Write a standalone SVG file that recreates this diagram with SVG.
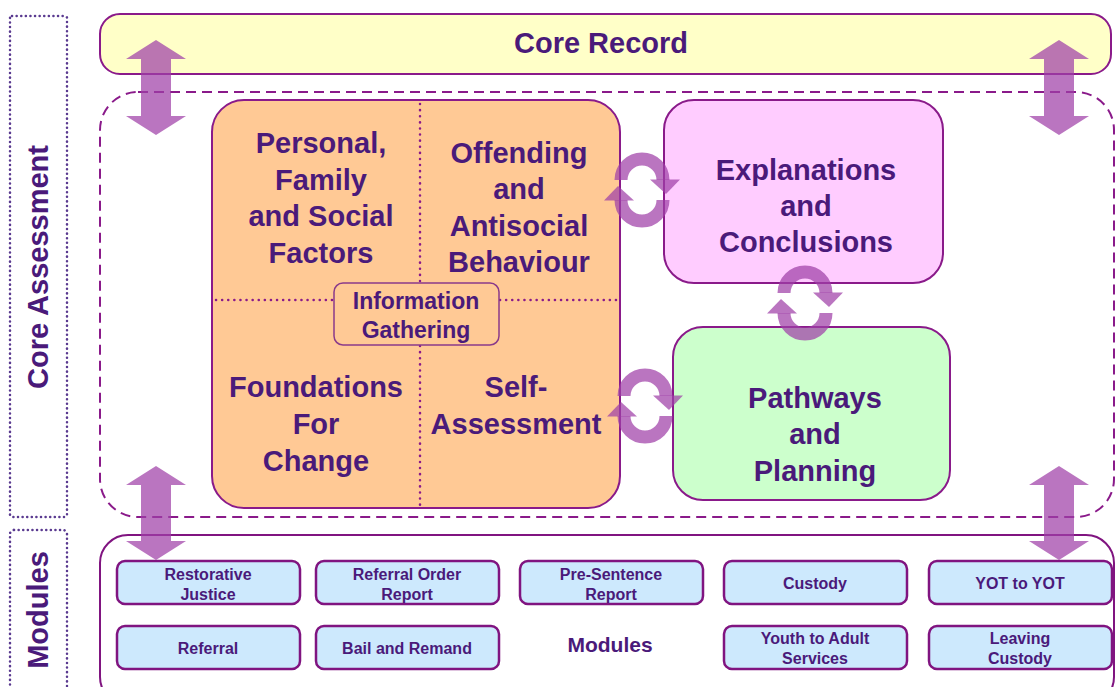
<svg xmlns="http://www.w3.org/2000/svg" xmlns:xlink="http://www.w3.org/1999/xlink" width="1116" height="687" viewBox="0 0 1116 687">
<style>
.t{font-family:"Liberation Sans",Arial,sans-serif;font-weight:bold;fill:#4a1a7a;text-anchor:middle}
.big{font-size:29px}
.sm{font-size:16px}
.box{stroke:#8a1a8a;stroke-width:2}
.mod{fill:#cde9fd;stroke:#801480;stroke-width:2.5}
.dot{fill:none;stroke:#5a3a90;stroke-width:2.5;stroke-dasharray:0.1 4.5;stroke-linecap:round}
.idot{fill:none;stroke:#8a1a8a;stroke-width:2.5;stroke-dasharray:0.1 6;stroke-linecap:round}
.arr{fill:#a040a8;fill-opacity:0.72}
.cyc{fill:none;stroke:#a040a8;stroke-opacity:0.72;stroke-width:13}
</style>
<defs>
<g id="half">
<path class="cyc" d="M -21,-10 A 21 21 0 0 1 21,-10"/>
<polygon class="arr" points="8,-10.5 38,-10.5 24,4"/>
</g>
<g id="cycle">
<use xlink:href="#half"/>
<use xlink:href="#half" transform="rotate(180)"/>
</g>
</defs>
<rect width="1116" height="687" fill="#ffffff"/>

<g id="side-core-assessment">
<rect class="dot" x="10" y="16" width="57" height="501" rx="2"/>
<text class="t big" transform="translate(48,267) rotate(-90)">Core Assessment</text>
</g>
<g id="side-modules">
<rect class="dot" x="10" y="530" width="57" height="170" rx="4"/>
<text class="t big" transform="translate(48,610) rotate(-90)">Modules</text>
</g>

<g id="core-record">
<rect class="box" x="100" y="14" width="1011" height="60" rx="20" fill="#ffffc8"/>
<text class="t big" x="601" y="53">Core Record</text>
</g>

<g id="core-assessment-area">
<rect x="100" y="92" width="1014" height="425" rx="38" fill="none" stroke="#8a1a8a" stroke-width="2" stroke-dasharray="10 6"/>
</g>

<g id="information-gathering">
<rect class="box" x="212" y="100" width="408" height="408" rx="32" fill="#ffc995"/>
<line class="idot" x1="420" y1="104" x2="420" y2="283"/>
<line class="idot" x1="420" y1="346" x2="420" y2="506"/>
<line class="idot" x1="216" y1="300" x2="334" y2="300"/>
<line class="idot" x1="500" y1="300" x2="618" y2="300"/>
<text class="t big"><tspan x="321" y="153">Personal,</tspan><tspan x="321" y="190">Family</tspan><tspan x="321" y="226">and Social</tspan><tspan x="321" y="263">Factors</tspan></text>
<text class="t big"><tspan x="519" y="163">Offending</tspan><tspan x="519" y="199">and</tspan><tspan x="519" y="236">Antisocial</tspan><tspan x="519" y="272">Behaviour</tspan></text>
<text class="t big"><tspan x="316" y="397">Foundations</tspan><tspan x="316" y="434">For</tspan><tspan x="316" y="471">Change</tspan></text>
<text class="t big"><tspan x="516" y="397">Self-</tspan><tspan x="516" y="434">Assessment</tspan></text>
<rect x="334" y="283" width="165" height="62" rx="9" fill="#ffc995" stroke="#8a3a8a" stroke-width="1.5"/>
<text class="t" style="font-size:23px"><tspan x="416" y="309">Information</tspan><tspan x="416" y="338">Gathering</tspan></text>
</g>

<g id="explanations">
<rect class="box" x="664" y="100" width="279" height="183" rx="30" fill="#ffccff"/>
<text class="t big"><tspan x="806" y="180">Explanations</tspan><tspan x="806" y="216">and</tspan><tspan x="806" y="252">Conclusions</tspan></text>
</g>

<g id="pathways">
<rect class="box" x="673" y="327" width="277" height="173" rx="30" fill="#ccffcc"/>
<text class="t big"><tspan x="815" y="408">Pathways</tspan><tspan x="815" y="444">and</tspan><tspan x="815" y="481">Planning</tspan></text>
</g>

<g id="modules">
<rect x="100" y="535" width="1014" height="170" rx="28" fill="#ffffff" stroke="#801480" stroke-width="2"/>
<rect class="mod" x="117" y="561" width="183" height="43" rx="8"/>
<rect class="mod" x="316" y="561" width="183" height="43" rx="8"/>
<rect class="mod" x="520" y="561" width="183" height="43" rx="8"/>
<rect class="mod" x="724" y="561" width="183" height="43" rx="8"/>
<rect class="mod" x="929" y="561" width="183" height="43" rx="8"/>
<rect class="mod" x="117" y="626" width="183" height="43" rx="8"/>
<rect class="mod" x="316" y="626" width="183" height="43" rx="8"/>
<rect class="mod" x="724" y="626" width="183" height="43" rx="8"/>
<rect class="mod" x="929" y="626" width="183" height="43" rx="8"/>
<text class="t sm"><tspan x="208" y="580">Restorative</tspan><tspan x="208" y="600">Justice</tspan></text>
<text class="t sm"><tspan x="407" y="580">Referral Order</tspan><tspan x="407" y="600">Report</tspan></text>
<text class="t sm"><tspan x="611" y="580">Pre-Sentence</tspan><tspan x="611" y="600">Report</tspan></text>
<text class="t sm" x="815" y="589">Custody</text>
<text class="t sm" x="1020" y="589">YOT to YOT</text>
<text class="t sm" x="208" y="654">Referral</text>
<text class="t sm" x="407" y="654">Bail and Remand</text>
<text class="t" style="font-size:21px" x="610" y="652">Modules</text>
<text class="t sm"><tspan x="815" y="644">Youth to Adult</tspan><tspan x="815" y="664">Services</tspan></text>
<text class="t sm"><tspan x="1020" y="644">Leaving</tspan><tspan x="1020" y="664">Custody</tspan></text>
</g>

<g id="connectors">
<polygon class="arr" points="156,40 186,59 171,59 171,116 186,116 156,135 126,116 141,116 141,59 126,59"/>
<polygon class="arr" points="1059,40 1089,59 1074,59 1074,116 1089,116 1059,135 1029,116 1044,116 1044,59 1029,59"/>
<polygon class="arr" points="156,466 186,485 171,485 171,541 186,541 156,560 126,541 141,541 141,485 126,485"/>
<polygon class="arr" points="1059,466 1089,485 1074,485 1074,541 1089,541 1059,560 1029,541 1044,541 1044,485 1029,485"/>
<use xlink:href="#cycle" transform="translate(642,190)"/>
<use xlink:href="#cycle" transform="translate(805,303)"/>
<use xlink:href="#cycle" transform="translate(645,406)"/>
</g>
</svg>
